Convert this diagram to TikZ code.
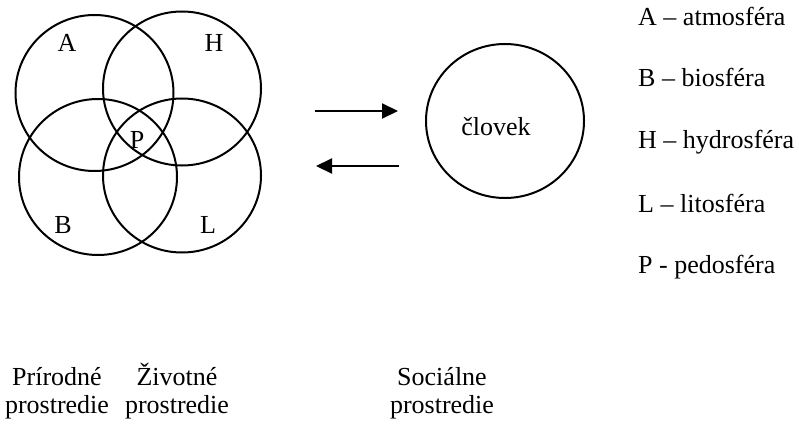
\documentclass[tikz,border=0pt]{standalone}
\usepackage{fontspec}
\setmainfont{Liberation Serif}
\usetikzlibrary{arrows.meta,shapes.geometric}
\begin{document}
\begin{tikzpicture}[x=1pt,y=-1pt,
  ring/.style={draw,line width=2pt},
  lbl/.style={inner sep=0pt,anchor=base,font=\fontsize{26}{28}\selectfont},
  leg/.style={inner sep=0pt,anchor=base west,font=\fontsize{26}{28}\selectfont},
  arr/.style={line width=2pt,-{Triangle[length=16pt,width=15pt]}}]
\useasboundingbox (0,0) rectangle (799,425);
% sphere circles
\draw[ring] (94.5,93) ellipse [x radius=79,y radius=78];
\draw[ring] (182,88.5) ellipse [x radius=79,y radius=77];
\draw[ring] (98,177) ellipse [x radius=79,y radius=78];
\draw[ring] (182,175.5) ellipse [x radius=79,y radius=77];
\node[lbl] (a) at (67,52) {A};
\node[lbl] (h) at (214,52) {H};
\node[lbl] (p) at (137,148) {P};
\node[lbl] (b) at (63,233) {B};
\node[lbl] (l) at (208,233) {L};
% human
\node[draw,ellipse,line width=2pt,minimum width=158pt,minimum height=154pt,inner sep=0pt] (c) at (505,121) {};
\node[lbl] (clovek) at (496,135) {človek};
% arrows
\coordinate (a1s) at (315,111);
\coordinate (a1e) at (398,111);
\coordinate (a2s) at (399,166);
\coordinate (a2e) at (316,166);
\draw[arr] (a1s) -- (a1e);
\draw[arr] (a2s) -- (a2e);
% legend
\node[leg] (la) at (638,26) {A – atmosféra};
\node[leg] (lb) at (638,87) {B – biosféra};
\node[leg] (lh) at (638,148) {H – hydrosféra};
\node[leg] (ll) at (638,212) {L – litosféra};
\node[leg] (lp) at (638,273) {P - pedosféra};
% bottom labels
\node[lbl,align=center] (pr) at (57,413) {Prírodné\\prostredie};
\node[lbl,align=center] (zi) at (177,413) {Životné\\prostredie};
\node[lbl,align=center] (so) at (442,413) {Sociálne\\prostredie};
\end{tikzpicture}
\end{document}
